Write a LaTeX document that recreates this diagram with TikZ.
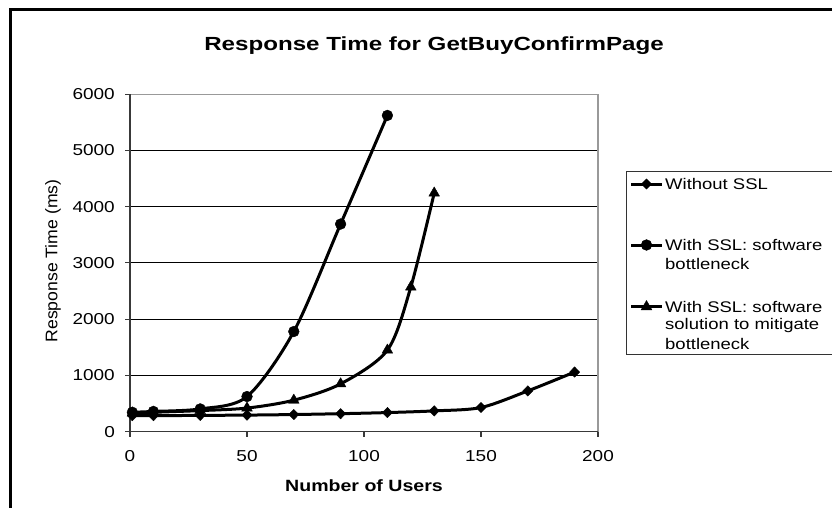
\documentclass[tikz,border=0pt]{standalone}
\usepackage{fontspec}
\setmainfont[FakeStretch=1.2]{Liberation Sans}
\newfontfamily\titlefont[FakeStretch=1.27]{Liberation Sans}
\newfontfamily\ylabfont[FakeStretch=1.05]{Liberation Sans}
\usetikzlibrary{plotmarks}
\begin{document}
\begin{tikzpicture}[x=1pt,y=-1pt,
  frame/.style={black, line width=3pt},
  gridline/.style={black, line width=0.8pt},
  axisline/.style={gray!45!black, line width=1.1pt},
  border/.style={gray!80, line width=1.1pt},
  series/.style={black, line width=3pt, line join=round, line cap=round},
  dmark/.style={mark=diamond*, mark size=5.2pt, mark options={fill=black, line width=0.4pt, xscale=1.3}},
  cmark/.style={mark=*, mark size=5.4pt, mark options={fill=black, line width=0.4pt}},
  tmark/.style={mark=triangle*, mark size=6.2pt, mark options={fill=black, line width=0.4pt}},
  ticklabel/.style={font=\fontsize{15.8}{18}\selectfont, inner sep=0pt},
  legendtext/.style={font=\fontsize{15.4}{18.6}\selectfont, align=left, anchor=north west, inner sep=0pt},
  legendbox/.style={black!80, line width=1pt}]
\useasboundingbox (0,0) rectangle (832,508);
\fill[white] (0,0) rectangle (832,508);
% outer frame (open to the right and bottom)
\draw[frame] (832,10) -- (10,10) -- (10,508);
% title
\node[font=\titlefont\bfseries\fontsize{19}{22}\selectfont, anchor=base, inner sep=0pt] (title) at (434,50.7) {Response Time for GetBuyConfirmPage};
% plot area
\begin{scope}[shift={(130pt,-431.7pt)}, x=2.34pt, y=0.05628pt]
  \foreach \v in {1000,2000,3000,4000,5000} \draw[gridline] (0,\v) -- (200,\v);
  \draw[border] (0,6000) -- (200,6000) -- (200,0);
  \draw[axisline] (0,0) -- (0,6000);
  \draw[axisline] (0,0) -- (200,0);
  \foreach \v in {0,1000,2000,3000,4000,5000,6000} {
    \draw[axisline] (0,\v) -- ++(-5.5pt,0pt);
    \node[ticklabel, anchor=east] (yl\v) at ([xshift=-15pt]0,\v) {\v};
  }
  \foreach \u in {0,50,100,150,200} {
    \draw[axisline] (\u,0) -- ++(0pt,-5.5pt);
    \node[ticklabel, anchor=north] (xl\u) at ([yshift=-18.5pt]\u,0) {\u};
  }
  % series
  \draw[series, dmark] plot[smooth, tension=0.5] coordinates {(1,285) (10,285) (30,290) (50,295) (70,305) (90,320) (110,340) (130,370) (150,430) (170,725) (190,1060)};
  \draw[series, tmark] plot[smooth, tension=0.5] coordinates {(1,330) (10,345) (30,375) (50,420) (70,560) (90,850) (110,1450) (120,2570) (130,4240)};
  \draw[series, cmark] plot[smooth, tension=0.5] coordinates {(1,345) (10,360) (30,405) (50,625) (70,1780) (90,3690) (110,5620)};
\end{scope}
% axis titles
\node[font=\fontsize{16.3}{19}\selectfont\bfseries, anchor=base, inner sep=0pt] (xtitle) at (364,491.7) {Number of Users};
\node[font=\ylabfont\fontsize{16.8}{19}\selectfont, rotate=90, inner sep=0pt] (ytitle) at (53,261) {Response Time (ms)};
% legend
\draw[legendbox] (840,171) -- (626,171) -- (626,354) -- (840,354);
\draw[series, line cap=butt] (631,184) -- (662,184);
\path[dmark] plot coordinates {(646.5,184)};
\node[legendtext, anchor=west] (l1) at (665,184) {Without SSL};
\draw[series, line cap=butt] (631,245) -- (662,245);
\path[cmark] plot coordinates {(646.5,245)};
\node[legendtext, anchor=west] (l2a) at (665,245) {With SSL: software};
\node[legendtext, anchor=west] (l2b) at (665,264) {bottleneck};
\draw[series, line cap=butt] (631,306.7) -- (662,306.7);
\path[tmark] plot coordinates {(646.5,306.7)};
\node[legendtext, anchor=west] (l3a) at (665,306.7) {With SSL: software};
\node[legendtext, anchor=west] (l3b) at (665,325.2) {solution to mitigate};
\node[legendtext, anchor=west] (l3c) at (665,343.7) {bottleneck};
\end{tikzpicture}
\end{document}
